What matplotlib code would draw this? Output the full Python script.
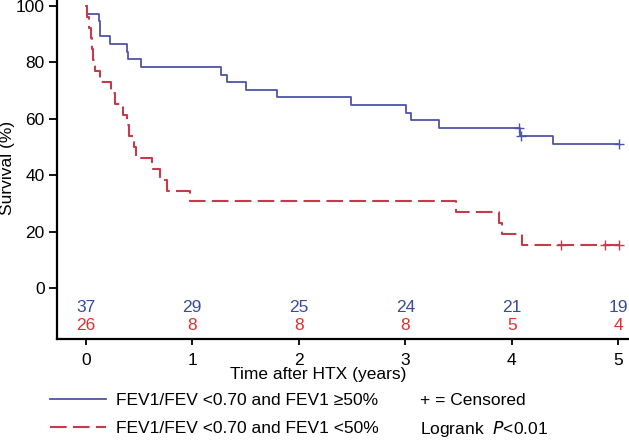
import matplotlib
matplotlib.use('Agg')
import matplotlib.pyplot as plt
from matplotlib.lines import Line2D

plt.rcParams['font.family'] = ['Liberation Sans', 'DejaVu Sans']

# Kaplan-Meier curves (years, survival %)
blue_t = [0, 0.01, 0.12, 0.13, 0.23, 0.385, 0.40, 0.52, 1.27, 1.33, 1.50, 1.80,
          2.49, 3.01, 3.05, 3.32, 4.08, 4.39, 5.01]
blue_s = [100, 97.3, 94.6, 89.2, 86.5, 83.8, 81.1, 78.4, 75.7, 73.0, 70.3, 67.6,
          64.9, 62.2, 59.5, 56.8, 54.0, 51.1, 51.1]
blue_cens_t = [4.07, 4.09, 5.01]
blue_cens_s = [56.8, 54.0, 51.1]

red_t = [0, 0.01, 0.03, 0.05, 0.06, 0.07, 0.085, 0.13, 0.235, 0.27, 0.35, 0.385,
         0.41, 0.45, 0.47, 0.62, 0.70, 0.76, 0.98, 3.48, 3.88, 3.91, 4.10, 5.01]
red_s = [100, 96.2, 92.3, 88.5, 84.6, 80.8, 76.9, 73.1, 69.2, 65.4, 61.5, 57.7,
         53.8, 50.0, 46.2, 42.3, 38.5, 34.6, 30.8, 26.9, 23.1, 19.2, 15.4, 15.4]
red_cens_t = [4.46, 4.87, 5.01]
red_cens_s = [15.4, 15.4, 15.4]

# numbers at risk
risk_times = [0, 1, 2, 3, 4, 5]
blue_risk = [37, 29, 25, 24, 21, 19]
red_risk = [26, 8, 8, 8, 5, 4]

blue_label = 'FEV1/FEV <0.70 and FEV1 \u226550%'
red_label = 'FEV1/FEV <0.70 and FEV1 <50%'

BLUE = '#4d54a6'
RED = '#c43b4c'
BLUE_TXT = '#3b4a9b'
RED_TXT = '#e0302f'
FS = 12.5

fig = plt.figure(figsize=(6.29, 4.40), dpi=100)
ax = fig.add_axes([57 / 629, 1 - 339 / 440, 1 - 57 / 629, 339 / 440])

ax.step(blue_t, blue_s, where='post', color=BLUE, lw=1.3)
ax.plot(blue_cens_t, blue_cens_s, ls='none', marker='+', ms=7, mew=1.0, color=BLUE)
ax.step(red_t, red_s, where='post', color=RED, lw=1.5, ls=(0, (8, 3)))
ax.plot(red_cens_t, red_cens_s, ls='none', marker='+', ms=7, mew=1.0, color=RED)

for x, b, r in zip(risk_times, blue_risk, red_risk):
    ax.text(x, -7, str(b), color=BLUE_TXT, fontsize=FS, ha='center', va='center')
    ax.text(x, -13.2, str(r), color=RED_TXT, fontsize=FS, ha='center', va='center')

ax.set_xlim(-0.27, 5.10)
ax.set_ylim(-18, 102.1)
ax.set_xticks(risk_times)
ax.set_yticks([0, 20, 40, 60, 80, 100])
ax.tick_params(axis='y', length=6, width=1.3, pad=3, labelsize=FS)
ax.tick_params(axis='x', length=4.5, width=1.3, pad=5.5, labelsize=FS)
for side in ['top', 'right']:
    ax.spines[side].set_visible(False)
for side in ['left', 'bottom']:
    ax.spines[side].set_linewidth(1.6)

fig.text(8 / 629, 1 - 168 / 440, 'Survival (%)', rotation=90, fontsize=FS,
         ha='center', va='center')
fig.text(318 / 629, 1 - 374 / 440, 'Time after HTX (years)', fontsize=FS,
         ha='center', va='center')

handles = [Line2D([], [], color=BLUE, lw=1.3),
           Line2D([], [], color=RED, lw=1.5, ls=(0, (8, 3)))]
fig.legend(handles, [blue_label, red_label], loc='center left',
           bbox_to_anchor=(50 / 629, 1 - 414.5 / 440), frameon=False,
           fontsize=FS, handlelength=3.2, handletextpad=0.6, labelspacing=0.75,
           borderpad=0, borderaxespad=0)

fig.text(420 / 629, 1 - 400 / 440, '+ = Censored', fontsize=FS, va='center')
fig.text(420 / 629, 1 - 429 / 440, 'Logrank  $\\it{P}$<0.01', fontsize=FS, va='center')

fig.savefig('out.png', dpi=100)
